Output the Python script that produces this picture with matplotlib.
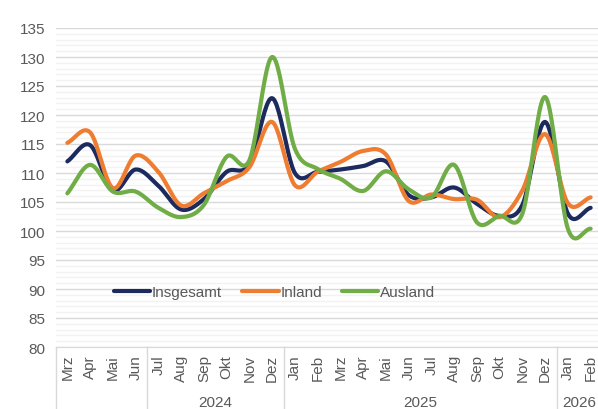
import numpy as np
import matplotlib
matplotlib.use('Agg')
import matplotlib.pyplot as plt
import matplotlib.transforms as mtransforms

plt.rcParams['font.family'] = ['Liberation Sans', 'DejaVu Sans']

months = ['Mrz', 'Apr', 'Mai', 'Jun',
          'Jul', 'Aug', 'Sep', 'Okt', 'Nov', 'Dez',
          'Jan', 'Feb', 'Mrz', 'Apr', 'Mai', 'Jun', 'Jul', 'Aug', 'Sep', 'Okt', 'Nov', 'Dez',
          'Jan', 'Feb']
years = ['', '2024', '2025', '2026']
year_sizes = [4, 6, 12, 2]

insgesamt = [112.0, 114.8, 107.0, 110.6, 107.8, 103.7, 105.5, 110.2, 111.5, 122.9,
             110.0, 110.2, 110.6, 111.2, 112.0, 106.2, 105.8, 107.5, 104.7, 102.6, 104.5, 118.8,
             103.0, 104.0]
inland = [115.2, 117.0, 107.4, 113.0, 110.2, 104.4, 106.5, 108.6, 111.0, 118.8,
          107.9, 110.2, 111.9, 113.8, 113.2, 105.2, 106.3, 105.5, 105.4, 102.4, 107.0, 116.7,
          104.8, 105.8]
ausland = [106.5, 111.4, 106.8, 106.8, 104.0, 102.4, 104.5, 112.8, 112.2, 130.0,
           114.2, 110.7, 109.0, 106.9, 110.3, 107.2, 105.8, 111.4, 101.5, 102.6, 103.0, 123.1,
           100.4, 100.4]

names = ['Insgesamt', 'Inland', 'Ausland']
colors = ['#1c2a5e', '#ee7d31', '#70ad47']


def smooth(x, y, n=24):
    # Catmull-Rom, so aehnlich wie die Excel-Glaettung
    x = np.asarray(x, float)
    y = np.asarray(y, float)
    px = np.concatenate([[2 * x[0] - x[1]], x, [2 * x[-1] - x[-2]]])
    py = np.concatenate([[2 * y[0] - y[1]], y, [2 * y[-1] - y[-2]]])
    xs, ys = [], []
    t = np.linspace(0, 1, n, endpoint=False)
    for i in range(1, len(px) - 2):
        for P, out in ((px, xs), (py, ys)):
            p0, p1, p2, p3 = P[i - 1], P[i], P[i + 1], P[i + 2]
            out.extend(0.5 * ((2 * p1) + (-p0 + p2) * t + (2 * p0 - 5 * p1 + 4 * p2 - p3) * t ** 2
                              + (-p0 + 3 * p1 - 3 * p2 + p3) * t ** 3))
    xs.append(x[-1])
    ys.append(y[-1])
    return xs, ys


fig = plt.figure(figsize=(5.98, 4.10), dpi=100)
ax = fig.add_axes([56 / 598, 1 - 348 / 410, 546 / 598, 319 / 410])

x = np.arange(len(months))
for vals, name, c in zip([insgesamt, inland, ausland], names, colors):
    sx, sy = smooth(x, vals)
    ax.plot(sx, sy, color=c, lw=3.0, label=name, solid_capstyle='round', zorder=3)

ax.set_xlim(-0.5, len(months) - 0.5)
ax.set_ylim(80, 135)
ax.set_yticks(range(80, 136, 5))
ax.set_yticks(range(80, 136, 1), minor=True)
ax.grid(axis='y', which='major', color='#d9d9d9', lw=1.0, zorder=0)
ax.grid(axis='y', which='minor', color='#f2f2f2', lw=1.0, zorder=0)
ax.set_axisbelow(True)
for s in ['top', 'right', 'left']:
    ax.spines[s].set_visible(False)
ax.spines['bottom'].set_color('#d9d9d9')
ax.tick_params(axis='y', which='both', length=0, labelsize=11, labelcolor='#595959', pad=8)
ax.tick_params(axis='x', which='both', length=0, labelsize=11, labelcolor='#595959', pad=5)
ax.set_xticks(x)
ax.set_xticklabels(months, rotation=90)

# Jahresgruppen unter der Achse
trans = mtransforms.blended_transform_factory(ax.transData, ax.transAxes)
start = -0.5
ax.plot([start, start], [0, -0.2], color='#d9d9d9', lw=1.0, transform=trans, clip_on=False)
for yr, n in zip(years, year_sizes):
    end = start + n
    ax.plot([end, end], [0, -0.2], color='#d9d9d9', lw=1.0, transform=trans, clip_on=False)
    ax.text((start + end) / 2, -0.172, yr, transform=trans, ha='center', va='center',
            fontsize=11, color='#595959')
    start = end

ax.legend(loc='center', bbox_to_anchor=(0.40, 0.172), ncol=3, frameon=False,
          fontsize=11, labelcolor='#595959', handlelength=2.4, handletextpad=0.1,
          columnspacing=1.3)

fig.savefig('out.png', dpi=100)
